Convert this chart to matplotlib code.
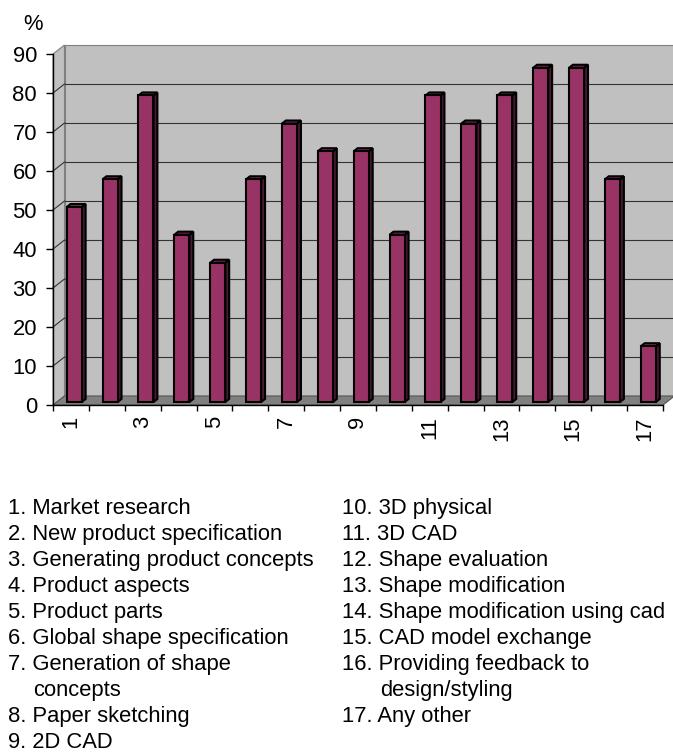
import matplotlib
matplotlib.use("Agg")
import matplotlib.pyplot as plt
from matplotlib.patches import Polygon

plt.rcParams['font.family'] = ['Liberation Sans', 'DejaVu Sans']

# ---- data -------------------------------------------------------------
categories = list(range(1, 18))
percent = [50.0, 57.1, 78.6, 42.9, 35.7, 57.1, 71.4, 64.3, 64.3,
           42.9, 78.6, 71.4, 78.6, 85.7, 85.7, 57.1, 14.3]
x_tick_labels = [str(c) if c % 2 else "" for c in categories]
y_ticks = list(range(0, 91, 10))

legend_left = ["1. Market research",
               "2. New product specification",
               "3. Generating product concepts",
               "4. Product aspects",
               "5. Product parts",
               "6. Global shape specification",
               "7. Generation of shape\nconcepts",
               "8. Paper sketching",
               "9. 2D CAD"]
legend_right = ["10. 3D physical",
                "11. 3D CAD",
                "12. Shape evaluation",
                "13. Shape modification",
                "14. Shape modification using cad",
                "15. CAD model exchange",
                "16. Providing feedback to\ndesign/styling",
                "17. Any other"]

# ---- figure / axes ----------------------------------------------------
W, H = 673, 754
fig = plt.figure(figsize=(W / 100, H / 100), dpi=100)
FS = 15.8

ax_left, ax_right, ax_top, ax_bottom = 53, 663, 54, 405
ax = fig.add_axes([ax_left / W, 1 - ax_bottom / H,
                   (ax_right - ax_left) / W, (ax_bottom - ax_top) / H])
n = len(categories)
ax.set_xlim(0, n)
ax.set_ylim(0, 90)
ax.patch.set_visible(False)

px_x = (ax_right - ax_left) / n
px_y = (ax_bottom - ax_top) / 90
DX = 11.5 / px_x      # depth offset of the chart box (data units)
DY = 9.0 / px_y

WALL = "#C0C0C0"
FLOOR = "#808080"
EDGE = "#808080"
GRID = "#333333"

# back wall, side wall, floor
back = Polygon([(DX, DY), (n + DX, DY), (n + DX, 90 + DY), (DX, 90 + DY)],
               closed=True, facecolor=WALL, edgecolor=EDGE, lw=0.8,
               clip_on=False, zorder=0.5)
side = Polygon([(0, 0), (DX, DY), (DX, 90 + DY), (0, 90)], closed=True,
               facecolor=WALL, edgecolor=EDGE, lw=0.8, clip_on=False, zorder=0.5)
floor = Polygon([(0, 0), (n, 0), (n + DX, DY), (DX, DY)], closed=True,
                facecolor=FLOOR, edgecolor="#555555", lw=0.8, clip_on=False,
                zorder=0.6)
for p in (back, side, floor):
    ax.add_patch(p)

# gridlines on back wall and side wall
for v in y_ticks[1:-1]:
    ax.plot([DX, n + DX], [v + DY, v + DY], color=GRID, lw=0.8,
            clip_on=False, zorder=0.7)
    ax.plot([0, DX], [v, v + DY], color=GRID, lw=0.8, clip_on=False, zorder=0.7)

# ---- 3D-looking bars --------------------------------------------------
F0, F1 = 0.33, 0.67
d = F1 - F0
BW = 0.42
FRONT = "#993366"
SIDE_C = "#4a1832"
TOP_C = "#7d2a55"
LW = 1.5

lefts = [i + 0.275 + F0 * DX for i in range(n)]
base = F0 * DY
for x0, v in zip(lefts, percent):
    x1 = x0 + BW
    top = base + v
    ax.add_patch(Polygon([(x1, base), (x1 + d * DX, base + d * DY),
                          (x1 + d * DX, top + d * DY), (x1, top)],
                         closed=True, facecolor=SIDE_C, edgecolor="black",
                         lw=LW, clip_on=False, zorder=2.9))
    ax.add_patch(Polygon([(x0, top), (x1, top), (x1 + d * DX, top + d * DY),
                          (x0 + d * DX, top + d * DY)],
                         closed=True, facecolor=TOP_C, edgecolor="black",
                         lw=LW, clip_on=False, zorder=2.9))
ax.bar(lefts, percent, width=BW, bottom=base, align="edge", color=FRONT,
       edgecolor="black", linewidth=LW, zorder=3, clip_on=False)

# ---- axes, ticks ------------------------------------------------------
for s in ("top", "right"):
    ax.spines[s].set_visible(False)
for s in ("left", "bottom"):
    ax.spines[s].set_linewidth(1.0)
    ax.spines[s].set_zorder(4)

ax.set_yticks(y_ticks)
ax.set_yticklabels([str(t) for t in y_ticks])
ax.tick_params(axis="y", direction="out", length=5, width=1, pad=6.5,
               labelsize=FS, colors="black")

ax.set_xticks(range(0, n + 1))
ax.set_xticklabels([""] * (n + 1))
ax.tick_params(axis="x", which="major", direction="out", length=4.3, width=1)
ax.set_xticks([i + 0.5 for i in range(n)], minor=True)
ax.set_xticklabels(x_tick_labels, minor=True, rotation=90, fontsize=FS)
ax.tick_params(axis="x", which="minor", length=0, pad=8)

fig.text(23 / W, 1 - 30 / H, "%", fontsize=FS, ha="left", va="baseline")

# ---- numbered key below the chart --------------------------------------
def draw_key(entries, x, indent, y0=514, step=26.0):
    row = 0
    for entry in entries:
        for k, line in enumerate(entry.split("\n")):
            fig.text((x + (indent if k else 0)) / W, 1 - (y0 + row * step) / H,
                     line, fontsize=FS, ha="left", va="baseline")
            row += 1

draw_key(legend_left, 8, 25)
draw_key(legend_right, 341.7, 38)

fig.savefig("out.png", dpi=100)
